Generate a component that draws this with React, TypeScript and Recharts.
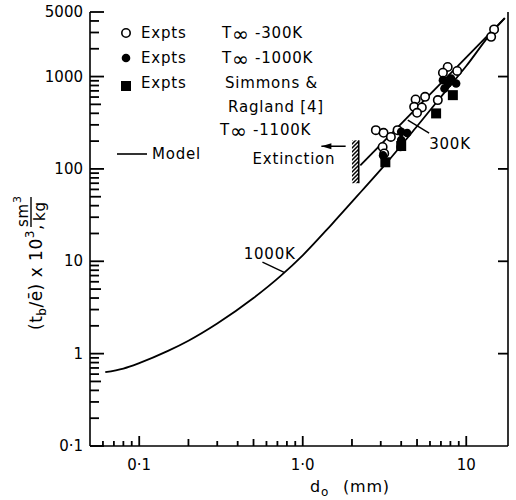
import React from 'react';
import {
  ComposedChart,
  Line,
  Scatter,
  XAxis,
  YAxis,
  ReferenceLine,
  ReferenceArea,
  ReferenceDot,
} from 'recharts';

const FONT = '"DejaVu Sans", sans-serif';

const W = 516;
const H = 500;
const M = { top: 12, right: 0, bottom: 0, left: 0 };
const Y_AXIS_W = 90;
const RIGHT_AXIS_W = 8;
const X_AXIS_H = 54;

// axes
const xDomain = [0.05, 18];
const xTicks = [0.06, 0.07, 0.08, 0.09, 0.1, 0.2, 0.3, 0.4, 0.5, 0.6, 0.7, 0.8, 0.9, 1, 2, 3, 4, 5, 6, 7, 8, 9, 10];
const xMajor = [0.1, 1, 10];
const xLabels = ['0·1', '1·0', '10'];

const yDomain = [0.1, 5000];
const yTicks = [
  0.1, 0.2, 0.3, 0.4, 0.5, 0.6, 0.7, 0.8, 0.9, 1, 2, 3, 4, 5, 6, 7, 8, 9, 10, 20, 30, 40, 50, 60, 70, 80, 90,
  100, 200, 300, 400, 500, 600, 700, 800, 900, 1000, 2000, 3000, 4000, 5000,
];
const yMajor = [0.1, 1, 10, 100, 1000, 5000];
const yLabels = ['0·1', '1', '10', '100', '1000', '5000'];
const rightTicks = [1, 10, 100, 1000];

// model curves: d0 (mm) vs tb/rho x 10^3
const model1000D = [0.062, 0.08, 0.1, 0.15, 0.2, 0.3, 0.5, 0.73, 1.0, 1.5, 2.3, 3.2, 5.0, 7.5, 10, 14.2, 17.2];
const model1000T = [0.63, 0.69, 0.79, 1.07, 1.38, 2.12, 4.0, 6.9, 11.6, 25, 58, 112, 290, 700, 1300, 2950, 4300];
const model300D = [2.25, 17.2];
const model300T = [109, 4300];

// experiments
const exp300D = [14.8, 14.2, 7.7, 7.2, 8.8, 6.7, 4.9, 5.6, 4.8, 5.35, 5.0, 2.8, 3.12, 3.8, 3.46, 3.08, 3.15];
const exp300T = [3240, 2690, 1270, 1100, 1150, 556, 565, 603, 470, 463, 405, 263, 246, 263, 222, 173, 147];
const exp1000D = [4.0, 4.35, 4.0, 3.96, 3.1, 7.2, 7.36, 8.07, 8.67, 7.71];
const exp1000T = [252, 245, 205, 173, 140, 914, 743, 953, 842, 842];
const simmonsD = [8.28, 6.54, 4.0, 3.2];
const simmonsT = [629, 399, 177, 118];

// annotations
const labelD = [0.493, 5.93, 0.435];
const labelT = [113, 164, 10.6];
const labelText = ['Extinction', '300K', '1000K'];
const leader300 = [{ x: 4.39, y: 337 }, { x: 5.93, y: 244 }];
const leader1000 = [{ x: 0.567, y: 9.8 }, { x: 0.77, y: 7.6 }];
const extinctionD = 2.2;
const extinctionHatchD = 2.0;
const extinctionT = [70, 204];
const arrowD = [1.3, 1.83];
const arrowT = 176;

const pts = (xs: number[], ys: number[]) => xs.map((x, i) => ({ x, y: ys[i] }));

const lead = (v: number) => Math.round(v / Math.pow(10, Math.floor(Math.log10(v) + 1e-9)));

// pixels per decade, to turn tick lengths into log-axis steps
const plotW = W - M.left - M.right - Y_AXIS_W - RIGHT_AXIS_W;
const plotH = H - M.top - M.bottom - X_AXIS_H;
const xDec = plotW / Math.log10(xDomain[1] / xDomain[0]);
const yDec = plotH / Math.log10(yDomain[1] / yDomain[0]);
const xTickLen = (v: number) => (xMajor.includes(v) ? 10 : lead(v) === 5 || lead(v) === 2 ? 7 : 5);
const yTickLen = (v: number) => (yMajor.includes(v) ? 14 : lead(v) === 5 ? 11 : 9);

// tick labels only, marks point inwards and are reference segments
const XTick = (props: any) => {
  const i = xMajor.indexOf(Number(props.payload.value));
  if (i < 0) return <g />;
  return (
    <text x={props.x} y={Number(props.y) + 24} textAnchor="middle" fontFamily={FONT} fontSize={15} fill="#000">
      {xLabels[i]}
    </text>
  );
};

const YTick = (props: any) => {
  const i = yMajor.indexOf(Number(props.payload.value));
  if (i < 0) return <g />;
  return (
    <text x={Number(props.x) - 7} y={Number(props.y) + 5} textAnchor="end" fontFamily={FONT} fontSize={15} fill="#000">
      {yLabels[i]}
    </text>
  );
};

const OpenDot = (p: any) => <circle cx={p.cx} cy={p.cy} r={4.2} fill="#fff" stroke="#000" strokeWidth={1.6} />;
const FilledDot = (p: any) => <circle cx={p.cx} cy={p.cy} r={4.3} fill="#000" />;
const Square = (p: any) => <rect x={p.cx - 5} y={p.cy - 5} width={10} height={10} fill="#000" />;

const textStyle = { fontFamily: FONT, fontSize: 15, fill: '#000', letterSpacing: 0.8 };
const frame = { stroke: '#000', strokeWidth: 1.6 };

export default function App() {
  return (
    <div style={{ position: 'absolute', left: 0, top: 0, width: W, height: H, background: '#fff' }}>
      <ComposedChart width={W} height={H} margin={M}>
        <defs>
          <pattern id="hatch" width="4" height="4" patternUnits="userSpaceOnUse">
            <path d="M0,4 L4,0 M-1,1 L1,-1 M3,5 L5,3" stroke="#000" strokeWidth={1.5} />
          </pattern>
        </defs>
        <XAxis
          dataKey="x"
          type="number"
          scale="log"
          domain={xDomain}
          allowDataOverflow
          ticks={xTicks}
          interval={0}
          height={X_AXIS_H}
          tickSize={0}
          tickMargin={0}
          tickLine={false}
          axisLine={frame}
          tick={XTick}
        />
        <XAxis
          xAxisId="top"
          orientation="top"
          dataKey="x"
          type="number"
          scale="log"
          domain={xDomain}
          allowDataOverflow
          height={0}
          tick={false}
          tickLine={false}
          axisLine={frame}
        />
        <YAxis
          dataKey="y"
          type="number"
          scale="log"
          domain={yDomain}
          allowDataOverflow
          ticks={yTicks}
          interval={0}
          width={Y_AXIS_W}
          tickSize={0}
          tickMargin={0}
          tickLine={false}
          axisLine={frame}
          tick={YTick}
        />
        <YAxis
          yAxisId="r"
          orientation="right"
          dataKey="y"
          type="number"
          scale="log"
          domain={yDomain}
          allowDataOverflow
          width={RIGHT_AXIS_W}
          tick={false}
          tickLine={false}
          axisLine={frame}
        />
        {xTicks.map((v) => (
          <ReferenceLine
            key={'xt' + v}
            segment={[{ x: v, y: yDomain[0] }, { x: v, y: yDomain[0] * Math.pow(10, xTickLen(v) / yDec) }]}
            stroke="#000"
            strokeWidth={1.8}
            ifOverflow="visible"
          />
        ))}
        {yTicks.map((v) => (
          <ReferenceLine
            key={'yt' + v}
            segment={[{ x: xDomain[0], y: v }, { x: xDomain[0] * Math.pow(10, yTickLen(v) / xDec), y: v }]}
            stroke="#000"
            strokeWidth={1.8}
            ifOverflow="visible"
          />
        ))}
        {rightTicks.map((v) => (
          <ReferenceLine
            key={'rt' + v}
            segment={[{ x: xDomain[1], y: v }, { x: xDomain[1] / Math.pow(10, 10 / xDec), y: v }]}
            stroke="#000"
            strokeWidth={1.8}
            ifOverflow="visible"
          />
        ))}
        <ReferenceArea
          x1={extinctionHatchD}
          x2={extinctionD}
          y1={extinctionT[0]}
          y2={extinctionT[1]}
          fill="url(#hatch)"
          fillOpacity={1}
          stroke="none"
        />
        <ReferenceLine
          segment={[{ x: extinctionD, y: extinctionT[0] }, { x: extinctionD, y: extinctionT[1] }]}
          stroke="#000"
          strokeWidth={1.6}
        />
        <ReferenceLine
          segment={[{ x: arrowD[0], y: arrowT }, { x: arrowD[1], y: arrowT }]}
          stroke="#000"
          strokeWidth={1.5}
        />
        <ReferenceDot
          x={arrowD[0]}
          y={arrowT}
          r={0}
          shape={(p: any) => (
            <polygon points={`${p.cx},${p.cy} ${p.cx + 10},${p.cy - 3} ${p.cx + 10},${p.cy + 3}`} fill="#000" />
          )}
        />
        <ReferenceLine segment={leader300} stroke="#000" strokeWidth={1.4} />
        <ReferenceLine segment={leader1000} stroke="#000" strokeWidth={1.4} />
        {labelText.map((t, i) => (
          <ReferenceDot
            key={t}
            x={labelD[i]}
            y={labelT[i]}
            r={0}
            shape={(p: any) => (
              <text x={p.cx} y={p.cy} style={textStyle as any}>
                {t}
              </text>
            )}
          />
        ))}
        <Line
          data={pts(model1000D, model1000T)}
          dataKey="y"
          type="monotone"
          stroke="#000"
          strokeWidth={1.8}
          dot={false}
          isAnimationActive={false}
        />
        <Line
          data={pts(model300D, model300T)}
          dataKey="y"
          type="linear"
          stroke="#000"
          strokeWidth={1.8}
          dot={false}
          isAnimationActive={false}
        />
        <Scatter data={pts(exp300D, exp300T)} shape={OpenDot} isAnimationActive={false} />
        <Scatter data={pts(exp1000D, exp1000T)} shape={FilledDot} isAnimationActive={false} />
        <Scatter data={pts(simmonsD, simmonsT)} shape={Square} isAnimationActive={false} />
      </ComposedChart>
      <svg width={W} height={H} style={{ position: 'absolute', left: 0, top: 0, pointerEvents: 'none' }}>
        {/* legend */}
        <circle cx={126} cy={33} r={4.2} fill="#fff" stroke="#000" strokeWidth={1.6} />
        <text x={141} y={38} style={textStyle as any}>Expts</text>
        <text x={222} y={38} style={textStyle as any}>
          T<tspan fontSize={20} dy={3}>∞</tspan>
          <tspan dy={-3}> -300K</tspan>
        </text>
        <circle cx={126} cy={58} r={4.3} fill="#000" />
        <text x={141} y={63} style={textStyle as any}>Expts</text>
        <text x={222} y={63} style={textStyle as any}>
          T<tspan fontSize={20} dy={3}>∞</tspan>
          <tspan dy={-3}> -1000K</tspan>
        </text>
        <rect x={121} y={81} width={10} height={10} fill="#000" />
        <text x={141} y={88} style={textStyle as any}>Expts</text>
        <text x={225} y={88} style={textStyle as any}>Simmons &amp;</text>
        <text x={228} y={112} style={textStyle as any}>Ragland [4]</text>
        <text x={220} y={135} style={textStyle as any}>
          T<tspan fontSize={20} dy={3}>∞</tspan>
          <tspan dy={-3}> -1100K</tspan>
        </text>
        <line x1={117} y1={154} x2={147} y2={154} stroke="#000" strokeWidth={1.6} />
        <text x={152} y={159} style={textStyle as any}>Model</text>

        {/* x title */}
        <text x={310} y={492} style={{ ...textStyle, fontSize: 16 } as any}>
          d<tspan fontSize={12} dy={4}>o</tspan>
        </text>
        <text x={343} y={492} style={{ ...textStyle, fontSize: 16 } as any}>(mm)</text>

        {/* y title */}
        <g transform="translate(42,330) rotate(-90)">
          <text x={0} y={0} style={{ ...textStyle, fontSize: 17, letterSpacing: 0.5 } as any}>
            (t<tspan fontSize={12} dy={4}>b</tspan>
            <tspan dy={-4}>/ē) x 10</tspan>
            <tspan fontSize={12} dy={-8}>3</tspan>
            <tspan dy={8}>,</tspan>
          </text>
          <text x={103} y={-14} style={textStyle as any}>
            sm<tspan fontSize={11} dy={-7}>3</tspan>
          </text>
          <line x1={103} y1={-11} x2={133} y2={-11} stroke="#000" strokeWidth={1.4} />
          <text x={109} y={3} style={textStyle as any}>kg</text>
        </g>
      </svg>
    </div>
  );
}
